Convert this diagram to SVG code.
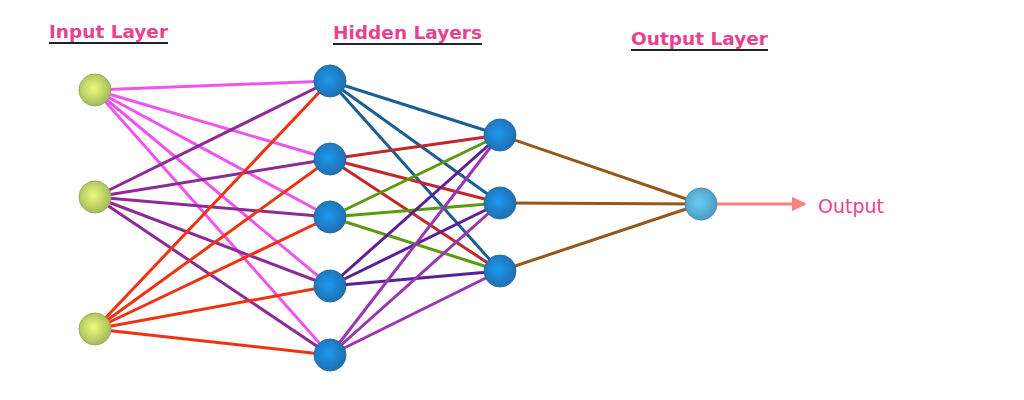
<svg xmlns="http://www.w3.org/2000/svg" width="1024" height="400" viewBox="0 0 1024 400">
<defs>
<radialGradient id="g" cx="0.45" cy="0.45" r="0.55"><stop offset="0" stop-color="#ecfa7a"/><stop offset="1" stop-color="#a4bb5c"/></radialGradient>
<radialGradient id="b" cx="0.45" cy="0.45" r="0.55"><stop offset="0" stop-color="#1c9af0"/><stop offset="1" stop-color="#1f6fb0"/></radialGradient>
<radialGradient id="c" cx="0.45" cy="0.45" r="0.55"><stop offset="0" stop-color="#70ccf5"/><stop offset="1" stop-color="#4a9cc4"/></radialGradient>
<marker id="arr" viewBox="0 0 10 10" refX="9" refY="5" markerWidth="5" markerHeight="5" markerUnits="strokeWidth" orient="auto"><path d="M0,0 L10,5 L0,10 z" fill="#f88080"/></marker>
</defs>
<style>
.t{font-family:"DejaVu Sans",sans-serif;font-weight:bold;font-size:17px;fill:#e8428f}
.u{stroke:#222;stroke-width:2}
line{stroke-width:3}
.a{stroke:#ee55ee}.p{stroke:#8e2a95}.r{stroke:#ee3311}
.bl{stroke:#1a5f94}.rd{stroke:#c0282a}.gr{stroke:#5a9a10}.in{stroke:#5a2196}.pu{stroke:#9a36b0}.br{stroke:#96581a}
.n{stroke:#5a8060;stroke-width:1}
</style>
<rect width="1024" height="400" fill="#fff"/>
<g id="titles">
<text class="t" x="49" y="38" textLength="119" lengthAdjust="spacingAndGlyphs">Input Layer</text><line class="u" x1="49" y1="43" x2="168" y2="43"/>
<text class="t" x="333" y="39" textLength="149" lengthAdjust="spacingAndGlyphs">Hidden Layers</text><line class="u" x1="333" y1="44" x2="482" y2="44"/>
<text class="t" x="631" y="45" textLength="137" lengthAdjust="spacingAndGlyphs">Output Layer</text><line class="u" x1="631" y1="50" x2="768" y2="50"/>
</g>
<g id="connectors">
<line class="a" x1="95" y1="90" x2="330" y2="81"/><line class="a" x1="95" y1="90" x2="330" y2="159"/><line class="a" x1="95" y1="90" x2="330" y2="217"/><line class="a" x1="95" y1="90" x2="330" y2="286"/><line class="a" x1="95" y1="90" x2="330" y2="355"/>
<line class="p" x1="95" y1="197" x2="330" y2="81"/><line class="p" x1="95" y1="197" x2="330" y2="159"/><line class="p" x1="95" y1="197" x2="330" y2="217"/><line class="p" x1="95" y1="197" x2="330" y2="286"/><line class="p" x1="95" y1="197" x2="330" y2="355"/>
<line class="r" x1="95" y1="329" x2="330" y2="81"/><line class="r" x1="95" y1="329" x2="330" y2="159"/><line class="r" x1="95" y1="329" x2="330" y2="217"/><line class="r" x1="95" y1="329" x2="330" y2="286"/><line class="r" x1="95" y1="329" x2="330" y2="355"/>
<line class="bl" x1="330" y1="81" x2="500" y2="135"/><line class="bl" x1="330" y1="81" x2="500" y2="203"/><line class="bl" x1="330" y1="81" x2="500" y2="271"/>
<line class="rd" x1="330" y1="159" x2="500" y2="135"/><line class="rd" x1="330" y1="159" x2="500" y2="203"/><line class="rd" x1="330" y1="159" x2="500" y2="271"/>
<line class="gr" x1="330" y1="217" x2="500" y2="135"/><line class="gr" x1="330" y1="217" x2="500" y2="203"/><line class="gr" x1="330" y1="217" x2="500" y2="271"/>
<line class="in" x1="330" y1="286" x2="500" y2="135"/><line class="in" x1="330" y1="286" x2="500" y2="203"/><line class="in" x1="330" y1="286" x2="500" y2="271"/>
<line class="pu" x1="330" y1="355" x2="500" y2="135"/><line class="pu" x1="330" y1="355" x2="500" y2="203"/><line class="pu" x1="330" y1="355" x2="500" y2="271"/>
<line class="br" x1="500" y1="135" x2="701" y2="204"/><line class="br" x1="500" y1="203" x2="701" y2="204"/><line class="br" x1="500" y1="271" x2="701" y2="204"/>
<line x1="717" y1="204" x2="805" y2="204" stroke="#f88080" marker-end="url(#arr)"/>
</g>
<g id="input"><circle cx="95" cy="90" r="16" fill="url(#g)" stroke="#98aa60"/><circle cx="95" cy="197" r="16" fill="url(#g)" stroke="#98aa60"/><circle cx="95" cy="329" r="16" fill="url(#g)" stroke="#98aa60"/></g>
<g id="hidden1"><circle cx="330" cy="81" r="16" fill="url(#b)" stroke="#2a6aa0"/><circle cx="330" cy="159" r="16" fill="url(#b)" stroke="#2a6aa0"/><circle cx="330" cy="217" r="16" fill="url(#b)" stroke="#2a6aa0"/><circle cx="330" cy="286" r="16" fill="url(#b)" stroke="#2a6aa0"/><circle cx="330" cy="355" r="16" fill="url(#b)" stroke="#2a6aa0"/></g>
<g id="hidden2"><circle cx="500" cy="135" r="16" fill="url(#b)" stroke="#2a6aa0"/><circle cx="500" cy="203" r="16" fill="url(#b)" stroke="#2a6aa0"/><circle cx="500" cy="271" r="16" fill="url(#b)" stroke="#2a6aa0"/></g>
<g id="output"><circle cx="701" cy="204" r="16" fill="url(#c)" stroke="#4a8cb0"/></g>
<g id="outlabel"><text x="818" y="213" font-family="DejaVu Sans,sans-serif" font-size="19" fill="#e8428f">Output</text></g>
</svg>
